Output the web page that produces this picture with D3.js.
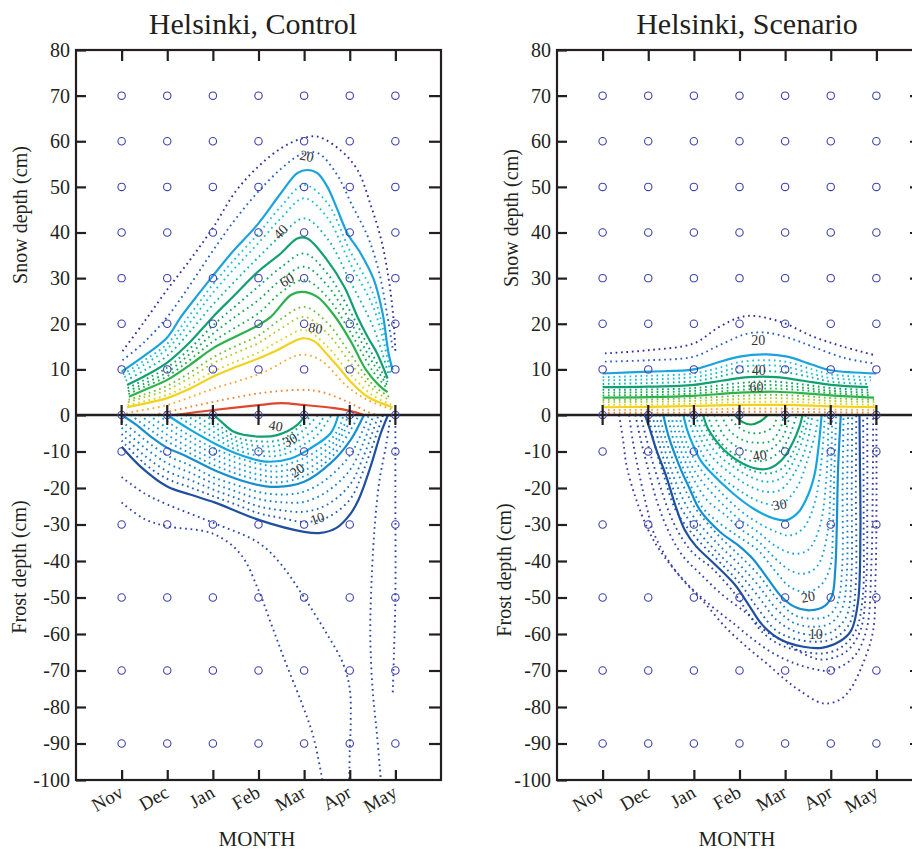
<!DOCTYPE html>
<html><head><meta charset="utf-8">
<script src="https://cdn.jsdelivr.net/npm/d3@7"></script>
<style>
body{margin:0;background:#fff}
svg text{font-family:"Liberation Serif","Times New Roman",serif;fill:#231f20}
</style>
</head><body>
<svg id="c" width="912" height="850"></svg>
<script>
// ---------------- data ----------------
const months = ['Nov','Dec','Jan','Feb','Mar','Apr','May'];
const snowTicks = [0,10,20,30,40,50,60,70,80];
const frostTicks = [-10,-20,-30,-40,-50,-60,-70,-80,-90,-100];
const snowGridDepths = [0,10,20,30,40,50,60,70];
const frostGridDepths = [-10,-30,-50,-70,-90];
const snowSolid = [20,40,60,80,95];
const frostSolid = [10,20,30,40,50];

// contour lines: [probability level (%), [[month index, depth cm], ...]]
const ctrlSnowLines = [
 [10,[[0.02,14],[0.5,20.5],[1,27.5],[1.5,34],[2,41],[2.5,49],[3,54.5],[3.5,58.5],[3.95,60.6],[4.3,61],[4.8,58],[5.17,53.7],[5.46,46],[5.7,38],[5.85,30],[5.95,22],[6.0,14]]],
 [15,[[0.02,12],[0.5,16],[1,21.5],[1.5,28.5],[2,36],[2.5,43],[3,49],[3.5,54],[3.95,57.2],[4.3,57.4],[4.7,53],[5.05,46],[5.4,39],[5.65,31],[5.82,22],[5.95,14]]],
 [20,[[0,9.5],[0.5,13],[1,17],[1.3,21.5],[1.7,26.7],[2,30.5],[2.4,35.4],[3,42],[3.49,48.6],[3.85,53],[4.07,53.7],[4.29,53],[4.51,50],[4.73,45],[4.95,39.8],[5.24,35.4],[5.53,29.6],[5.72,22.3],[5.85,13.6],[5.94,9.9]]],
 [25,[[0.03,8.9],[0.5,12],[1,15.6],[1.5,22],[2,28.6],[2.5,34.4],[3,39.8],[3.5,45.8],[4,50.4],[4.5,46.6],[5,36.1],[5.5,26.9],[5.75,18],[5.92,9.5]]],
 [30,[[0.06,8.3],[0.5,11.1],[1,14.5],[1.5,20.3],[2,26.8],[2.5,32.4],[3,37.7],[3.5,43.2],[4,47.5],[4.5,43.4],[5,33.4],[5.5,24],[5.72,17],[5.89,9.1]]],
 [35,[[0.09,7.5],[0.5,9.8],[1,13],[1.5,18.3],[2,24.2],[2.5,29.5],[3,34.6],[3.5,39.4],[4,43.1],[4.5,38.8],[5,29.5],[5.5,19.6],[5.7,14],[5.86,8.5]]],
 [40,[[0.12,6.6],[0.5,8.5],[1,11.5],[1.5,16],[2,21.5],[2.5,26.5],[3,31.5],[3.5,35.5],[3.85,38.7],[4.07,38.7],[4.5,34],[4.88,28.1],[5.17,21.5],[5.4,17],[5.6,13.5],[5.83,8.0]]],
 [45,[[0.13,5.9],[0.5,7.7],[1,10.4],[1.5,14.6],[2,19.6],[2.5,23.9],[3,28.2],[3.5,32.4],[4,35.4],[4.5,31.1],[5,22.9],[5.5,13.2],[5.83,7.2]]],
 [50,[[0.14,5.2],[0.5,6.9],[1,9.4],[1.5,13.4],[2,17.8],[2.5,21.6],[3,25.2],[3.5,29.7],[4,32.5],[4.5,28.5],[5,20.7],[5.5,11.5],[5.83,6.4]]],
 [55,[[0.15,4.6],[0.5,6.2],[1,8.5],[1.5,12.1],[2,16.1],[2.5,19.2],[3,22.3],[3.5,26.9],[4,29.6],[4.5,25.9],[5,18.4],[5.5,9.7],[5.83,5.7]]],
 [60,[[0.16,4.0],[0.5,5.5],[1,7.7],[1.5,11],[2,14.6],[2.5,17.2],[3,19.7],[3.27,21.5],[3.71,26.3],[3.95,27],[4.29,25.9],[4.66,21.8],[5.02,16.2],[5.35,10],[5.64,6.5],[5.83,5.0]]],
 [65,[[0.15,3.3],[0.5,4.5],[1,6.4],[1.5,9.3],[2,12.6],[2.5,15.1],[3,17.4],[3.5,21.1],[4,23.7],[4.5,20.3],[5,13.6],[5.5,6.7],[5.86,4.0]]],
 [70,[[0.14,2.8],[0.5,3.9],[1,5.5],[1.5,8.2],[2,11.3],[2.5,13.6],[3,15.8],[3.5,19],[4,21.5],[4.5,18],[5,11.6],[5.5,5.7],[5.88,3.2]]],
 [75,[[0.13,2.1],[0.5,3.0],[1,4.4],[1.5,6.7],[2,9.5],[2.5,11.7],[3,13.7],[3.5,16.5],[4,18.6],[4.5,15.1],[5,9.1],[5.5,4.3],[5.91,2.3]]],
 [80,[[0.12,1.7],[0.5,2.5],[1,3.7],[1.5,5.8],[2,8.4],[2.5,10.5],[3,12.4],[3.41,14.2],[3.96,16.8],[4.22,16.2],[4.51,13.2],[4.75,10.5],[5.02,7.3],[5.39,4.0],[5.94,1.7]]],
 [85,[[0.1,0.3],[0.27,0.7],[1,2.2],[2.02,5.8],[3.05,9.1],[3.93,13.2],[4.36,12],[4.95,6.2],[5.39,3.3],[5.97,1.1]]],
 [90,[[0.7,0],[1.15,1.0],[2.02,2.9],[3.05,4.8],[3.93,5.5],[4.36,5.1],[4.95,2.9],[5.39,0.7],[5.6,0]]],
 [95,[[1.15,0],[2.02,1.1],[3.05,2.2],[3.5,2.6],[4.0,2.2],[4.66,1.5],[5.0,0.9],[5.31,0]]]
];

const ctrlFrostLines = [
 [6,[[0,-24],[0.5,-28.5],[1,-30.5],[2,-32.5],[2.6,-38],[3,-48],[3.3,-58],[3.6,-68],[3.95,-79],[4.2,-88],[4.4,-100]]],
 [8,[[0,-17],[0.5,-21.5],[1,-24.5],[2,-29.5],[3,-35],[3.5,-41],[4.0,-50],[4.5,-60],[4.85,-68],[5.0,-75],[5.02,-85],[5.0,-92],[4.99,-100]]],
 [8,[[5.9,0],[5.8,-8],[5.65,-18],[5.55,-30],[5.48,-45],[5.45,-60],[5.5,-75],[5.6,-88],[5.68,-100]]],
 [6,[[6.0,-3],[6.0,-20],[6.0,-50],[5.97,-65],[5.94,-77]]],
 [10,[[0,-8.7],[0.42,-14.2],[1.0,-19.6],[1.5,-21.8],[2.05,-24],[3.02,-28.8],[4.0,-32],[4.36,-32.3],[4.7,-31],[5.02,-27],[5.2,-23],[5.46,-14],[5.68,-5],[5.84,0]]],
 [12,[[0,-7],[0.5,-13.3],[1,-17.5],[1.5,-19.8],[2,-22.2],[2.5,-24.5],[3,-26.9],[3.5,-28.2],[4,-29.3],[4.5,-28.1],[5,-23.2],[5.3,-15.2],[5.73,0]]],
 [14,[[0,-5.2],[0.5,-11.1],[1,-15.4],[1.5,-17.8],[2,-20.4],[2.5,-22.7],[3,-25],[3.5,-26.1],[4,-26.5],[4.5,-24.6],[5,-19.2],[5.3,-11.4],[5.63,0]]],
 [16,[[0,-3.5],[0.5,-8.9],[1,-13.2],[1.5,-15.8],[2,-18.7],[2.5,-20.9],[3,-23],[3.5,-23.9],[4,-23.8],[4.5,-21],[5,-15.1],[5.3,-7.6],[5.52,0]]],
 [18,[[0,-1.7],[0.5,-6.7],[1,-11.1],[1.5,-13.8],[2,-17],[2.5,-19.1],[3,-21.1],[3.5,-21.8],[4,-21],[4.5,-17.5],[5,-11.1],[5.3,-3.8],[5.42,0]]],
 [20,[[0,0],[0.3,-2.5],[0.64,-5.9],[1.0,-9],[1.37,-11],[2.1,-15.5],[2.83,-18.7],[3.4,-19.7],[4.0,-18.3],[4.58,-13.2],[5.02,-6.8],[5.31,0]]],
 [22,[[0.2,0],[0.6,-3.8],[1,-7.2],[1.5,-10.5],[2,-13.6],[2.5,-16],[3,-17.8],[3.4,-18.5],[4,-16.8],[4.58,-11.8],[5.0,-4.5],[5.2,0]]],
 [24,[[0.4,0],[0.7,-2.8],[1,-5.4],[1.5,-9],[2,-12],[2.5,-14.5],[3,-16.3],[3.4,-17],[4,-15.2],[4.58,-10.2],[4.9,-4],[5.08,0]]],
 [26,[[0.6,0],[1,-3.6],[1.5,-7.3],[2,-10.5],[2.5,-13],[3,-14.8],[3.4,-15.5],[4,-13.5],[4.58,-8.5],[4.85,-3.5],[4.97,0]]],
 [28,[[0.8,0],[1,-1.8],[1.5,-5.7],[2,-9],[2.5,-11.5],[3,-13.3],[3.4,-14],[4,-11.8],[4.58,-6.8],[4.8,-2.5],[4.86,0]]],
 [30,[[1.0,0],[1.5,-4],[2.1,-8.2],[2.5,-10.5],[2.83,-11.9],[3.2,-12.8],[3.71,-11.9],[4.14,-9.1],[4.58,-5.0],[4.75,0]]],
 [32,[[1.2,0],[1.5,-2.5],[2,-6],[2.5,-9.4],[3,-11.1],[3.5,-11],[4,-8],[4.3,-5.3],[4.6,0]]],
 [34,[[1.4,0],[1.7,-2.2],[2,-4.5],[2.5,-8.2],[3,-9.8],[3.5,-9.6],[4,-6],[4.3,-3],[4.45,0]]],
 [36,[[1.6,0],[2,-3],[2.5,-7.1],[3,-8.5],[3.5,-8.1],[4,-4],[4.3,0]]],
 [38,[[1.8,0],[2,-1.5],[2.5,-6],[3,-7.2],[3.5,-6.7],[4,-2],[4.17,0]]],
 [40,[[2.02,0],[2.2,-2],[2.46,-4.6],[2.98,-5.9],[3.41,-5.5],[3.85,-2.7],[4.02,0]]]
];

const scenSnowLines = [
 [10,[[0.05,13.5],[1,14.2],[2,15.7],[2.57,19.4],[3.15,21.7],[3.88,20.5],[4.61,17.2],[5.27,15],[5.93,13.2]]],
 [15,[[0.05,11.7],[1,12],[2,12.8],[2.6,15.5],[3.2,17.9],[3.7,17.9],[4.2,16.5],[4.6,15],[5.3,12.5],[5.93,11.3]]],
 [20,[[0,9.1],[1,9.5],[2,10],[2.45,11.3],[3,12.8],[3.6,13.3],[4.05,12.8],[4.6,11],[5,9.8],[6,9.1]]],
 [25,[[0,8.3],[1,8.6],[2,9.1],[2.5,10.2],[3,11.6],[3.6,12],[4.05,11.6],[4.6,10],[5,8.9],[5.9,8.3]]],
 [30,[[0,7.6],[1,7.8],[2,8.3],[2.5,9.2],[3,10.5],[3.6,10.9],[4.05,10.5],[4.6,9],[5,8.1],[5.88,7.6]]],
 [35,[[0,6.8],[1,7],[2,7.4],[2.5,8.3],[3,9.4],[3.6,9.6],[4.05,9.3],[4.6,8.2],[5,7.3],[5.85,6.8]]],
 [40,[[0,6.1],[1,6.2],[2,6.6],[2.6,7.5],[3.2,8.3],[3.8,8.3],[4.4,7.5],[5,6.6],[5.82,6.1]]],
 [45,[[0,5.5],[1,5.6],[2,5.9],[3,7.0],[3.6,7.4],[4.3,6.8],[5,5.9],[5.85,5.5]]],
 [50,[[0,4.9],[1,5],[2,5.3],[3,6.2],[3.6,6.6],[4.3,6.1],[5,5.3],[5.88,4.9]]],
 [55,[[0,4.3],[1,4.4],[2,4.7],[3,5.5],[3.7,5.8],[4.4,5.4],[5,4.8],[5.9,4.3]]],
 [60,[[0,3.8],[1,3.9],[2,4.2],[3,4.9],[3.8,5.1],[4.5,4.7],[5,4.3],[5.95,3.8]]],
 [65,[[0,3.3],[1,3.4],[2,3.7],[3,4.2],[3.8,4.4],[4.5,4.1],[5,3.7],[6,3.3]]],
 [70,[[0,2.8],[1,2.9],[2,3.1],[3,3.5],[3.8,3.7],[4.5,3.4],[5,3.1],[6,2.8]]],
 [75,[[0,2.2],[1,2.3],[2,2.5],[3,2.8],[4,2.9],[5,2.5],[6,2.2]]],
 [80,[[0,1.7],[1,1.8],[2,2.0],[3,2.2],[4,2.2],[5,1.9],[6,1.7]]],
 [85,[[0,1.1],[2,1.2],[3,1.4],[4,1.4],[5,1.2],[6,1.1]]],
 [90,[[0,0.5],[2,0.55],[3,0.7],[4,0.7],[5,0.6],[6,0.5]]]
];

const scenFrostLines = [
 [2,[[0.36,0],[0.45,-7],[0.53,-14.2],[0.74,-23.3],[1.0,-31.5],[1.25,-37],[1.76,-45.2],[2.2,-51],[2.72,-58.5],[3.2,-64],[3.59,-68],[4.0,-72.5],[4.32,-75.5],[4.83,-79],[5.2,-78],[5.42,-75.3],[5.71,-68],[5.93,-59],[5.98,-45],[6.0,-31.5],[6.0,0]]],
 [4,[[0.58,0],[0.66,-7],[0.8,-16],[1.0,-27],[1.11,-32],[1.5,-41],[1.91,-47],[2.4,-52.5],[2.86,-57],[3.3,-61.5],[3.74,-65.3],[4.2,-68],[4.6,-69.5],[4.98,-70],[5.49,-66.5],[5.78,-59],[5.89,-41],[5.92,-20],[5.93,0]]],
 [6,[[0.72,0],[0.82,-6],[0.98,-14],[1.2,-24],[1.45,-32],[1.75,-38.5],[2.13,-43.4],[2.6,-49],[3.15,-54.3],[3.55,-59],[4.03,-62.5],[4.5,-66],[4.85,-67],[5.34,-64.8],[5.65,-59],[5.78,-45],[5.8,-25],[5.8,0]]],
 [8,[[0.83,0],[0.95,-6],[1.1,-13],[1.3,-21],[1.5,-28],[1.75,-34],[2.0,-38],[2.4,-42],[2.9,-49],[3.2,-54.5],[3.5,-59.5],[3.9,-63],[4.4,-64.8],[4.85,-65.3],[5.25,-63.5],[5.55,-59],[5.7,-50],[5.72,-30],[5.71,0]]],
 [10,[[0.93,0],[1.05,-4.5],[1.18,-9.6],[1.4,-17],[1.6,-25],[1.8,-31.5],[2.05,-36],[2.4,-40.2],[2.9,-46.5],[3.2,-52],[3.5,-57.5],[3.9,-61.5],[4.4,-63.5],[4.8,-63.8],[5.2,-62],[5.45,-59],[5.6,-51],[5.65,-32],[5.64,-14],[5.63,0]]],
 [12,[[1.01,0],[1.13,-7.5],[1.35,-17],[1.6,-26],[2.0,-33],[2.5,-39.5],[3.0,-46],[3.4,-53],[3.8,-59],[4.2,-61.3],[4.75,-62.1],[5.1,-61],[5.42,-57],[5.54,-48],[5.55,-20],[5.56,0]]],
 [14,[[1.09,0],[1.22,-7],[1.45,-16.5],[1.7,-25],[2.0,-30.5],[2.5,-37.5],[3.0,-43.5],[3.4,-49.5],[3.8,-56],[4.2,-59.2],[4.7,-60.3],[5.05,-59.3],[5.35,-55],[5.45,-45],[5.46,-20],[5.47,0]]],
 [16,[[1.17,0],[1.3,-6.8],[1.53,-16],[1.78,-23.5],[2.0,-28],[2.5,-35],[3.0,-41],[3.4,-46.5],[3.8,-53],[4.2,-57],[4.65,-58],[5.0,-57],[5.25,-53],[5.35,-44],[5.36,-20],[5.38,0]]],
 [18,[[1.25,0],[1.38,-6.5],[1.62,-15],[1.85,-21.5],[2.0,-25],[2.5,-32.5],[3.0,-38.5],[3.4,-43.5],[3.8,-50],[4.2,-54.8],[4.6,-55.8],[4.95,-55],[5.15,-51.5],[5.25,-42],[5.26,-20],[5.28,0]]],
 [20,[[1.33,0],[1.45,-6],[1.69,-14.2],[1.9,-20],[2.13,-26],[2.57,-32],[3.0,-36],[3.3,-39.5],[3.6,-44.5],[3.9,-49.5],[4.2,-52.5],[4.55,-53.5],[4.87,-52.3],[5.03,-49.5],[5.1,-42],[5.13,-32],[5.16,-15],[5.22,0]]],
 [22,[[1.42,0],[1.58,-8],[1.85,-17],[2.2,-25.5],[2.6,-30],[3.0,-33.5],[3.4,-37],[3.8,-43],[4.1,-47],[4.45,-48.5],[4.75,-47],[4.98,-42],[5.05,-30],[5.08,-15],[5.12,0]]],
 [24,[[1.5,0],[1.68,-8.5],[1.95,-16.5],[2.3,-23.5],[2.7,-27.5],[3.0,-31],[3.4,-34.5],[3.8,-39.5],[4.1,-42.5],[4.4,-43.5],[4.7,-41.5],[4.92,-33],[5.0,-18],[5.03,0]]],
 [26,[[1.59,0],[1.76,-8],[2.0,-15],[2.4,-21.5],[3.0,-28.6],[3.4,-32],[3.8,-36],[4.2,-38],[4.5,-37],[4.75,-31],[4.9,-18],[4.95,0]]],
 [28,[[1.68,0],[1.85,-8],[2.1,-14],[2.5,-20],[3.0,-26],[3.4,-29.5],[3.8,-32],[4.1,-33],[4.4,-31],[4.65,-24],[4.8,-12],[4.87,0]]],
 [30,[[1.77,0],[1.85,-4],[1.98,-8.2],[2.15,-12.5],[2.35,-15.5],[2.86,-21.5],[3.3,-25.6],[3.74,-28.3],[4.03,-28.8],[4.3,-26.5],[4.5,-22],[4.65,-16],[4.73,-9],[4.8,0]]],
 [32,[[1.86,0],[2.05,-7],[2.3,-13],[2.7,-18],[3.1,-21.5],[3.5,-24],[3.9,-24.5],[4.25,-20],[4.5,-12],[4.68,-4],[4.72,0]]],
 [34,[[1.95,0],[2.15,-6.5],[2.4,-11.5],[2.8,-16],[3.15,-19],[3.55,-21],[3.9,-20.5],[4.2,-16],[4.45,-9],[4.6,0]]],
 [36,[[2.03,0],[2.2,-5],[2.5,-10.5],[2.9,-14.5],[3.25,-17],[3.6,-18.3],[3.95,-17],[4.25,-11],[4.45,-4],[4.52,0]]],
 [38,[[2.12,0],[2.3,-4.5],[2.6,-9.5],[3.0,-13.5],[3.35,-15.5],[3.65,-16],[3.95,-14.5],[4.2,-9.5],[4.4,-3],[4.45,0]]],
 [40,[[2.2,0],[2.3,-3.5],[2.45,-6.5],[2.64,-9.3],[3.0,-12.8],[3.37,-14.7],[3.66,-14.6],[3.95,-12],[4.17,-7.5],[4.32,-3],[4.38,0]]],
 [42,[[2.3,0],[2.5,-6],[2.8,-10],[3.2,-12.4],[3.6,-12.3],[3.95,-9],[4.15,-4],[4.25,0]]],
 [44,[[2.45,0],[2.65,-5.5],[2.95,-8.7],[3.3,-10],[3.65,-9.6],[3.95,-6],[4.1,0]]],
 [46,[[2.6,0],[2.8,-4.5],[3.1,-7],[3.4,-7.6],[3.7,-7],[3.9,-3.5],[3.97,0]]],
 [48,[[2.75,0],[2.95,-3],[3.2,-4.8],[3.5,-4.8],[3.75,-3],[3.82,0]]],
 [50,[[2.9,0],[3.05,-1.8],[3.25,-2.6],[3.45,-1.8],[3.62,0]]]
];

// inline contour labels: [text, month index, depth, rotation]
const ctrlSnowLabels = [['20',4.06,56.8,12],['40',3.48,40.2,-45],['60',3.62,29.6,-30],['80',4.25,19.1,10]];
const ctrlFrostLabels = [['40',3.38,-2.9,10],['30',3.69,-6.8,-30],['20',3.85,-15.1,-35],['10',4.29,-28.3,-20]];
const scenSnowLabels = [['20',3.41,16.4,0],['40',3.42,9.9,0],['60',3.37,6.1,0]];
const scenFrostLabels = [['40',3.44,-11,-10],['30',3.88,-24.5,-10],['20',4.5,-49.8,-10],['10',4.67,-60,0]];

// ---------------- styling / layout ----------------
const snowColor = d3.scaleLinear()
  .domain([10,15,20,25,30,35,40,50,60,65,70,75,80,85,90,95])
  .range(['#30309c','#2a5fc4','#1ca2dc','#22bde0','#18c0d2','#12b2a6','#12a070','#14a85a','#2cb14b','#70bf3c','#aacd2c','#dad526','#f0d21f','#f4aa30','#f0873a','#e2452a']);
const frostColor = d3.scaleLinear()
  .domain([2,8,10,16,20,26,30,36,40,46,50])
  .range(['#3a3aa6','#2c48aa','#1f4f9f','#1e7fcc','#168fd0','#1aa2de','#13a7df','#10b3c0','#11a072','#17ab5e','#0f9e55']);

const INK = '#231f20';
const SERIF = '"Liberation Serif","Times New Roman",serif';
const panels = [
  {title:'Helsinki, Control', titleX:253, left:76, snow:ctrlSnowLines, frost:ctrlFrostLines,
   snowLabels:ctrlSnowLabels, frostLabels:ctrlFrostLabels,
   snowTitle:[27,215], frostTitle:[26,567], monthX:257},
  {title:'Helsinki, Scenario', titleX:747, left:557, snow:scenSnowLines, frost:scenFrostLines,
   snowLabels:scenSnowLabels, frostLabels:scenFrostLabels,
   snowTitle:[518,218], frostTitle:[511,570], monthX:737}
];

const svg = d3.select('#c');
const ySnow = d3.scaleLinear().domain([0,80]).range([415,50]);
const yFrost = d3.scaleLinear().domain([0,-100]).range([415,780]);

panels.forEach(p => {
  const x = d3.scaleLinear().domain([-1,7]).range([p.left, p.left+365]);
  const g = svg.append('g');
  const mk = ys => d3.line().x(d=>x(d[0])).y(d=>ys(d[1])).curve(d3.curveCatmullRom.alpha(0.5));

  const drawSet = (lines, ys, color, solidSet) => {
    const sorted = lines.slice().sort((a,b)=> (solidSet.includes(a[0])?1:0) - (solidSet.includes(b[0])?1:0));
    g.append('g').selectAll('path').data(sorted).join('path')
      .attr('d', d => mk(ys)(d[1]))
      .attr('fill','none')
      .attr('stroke', d => color(d[0]))
      .attr('stroke-width', d => solidSet.includes(d[0]) ? 2.2 : 1.9)
      .attr('stroke-dasharray', d => solidSet.includes(d[0]) ? null : '1.7 3.7');
  };
  drawSet(p.snow, ySnow, snowColor, snowSolid);
  drawSet(p.frost, yFrost, frostColor, frostSolid);

  const lab = (arr, ys) => g.append('g').selectAll('text').data(arr).join('text')
    .attr('transform', d => `translate(${x(d[1])},${ys(d[2])}) rotate(${d[3]})`)
    .attr('text-anchor','middle').attr('dy','0.35em')
    .style('font-family',SERIF).style('font-size','14px').style('fill','#333').text(d=>d[0]);
  lab(p.snowLabels, ySnow);
  lab(p.frostLabels, yFrost);

  g.append('line').attr('x1',x(-1)).attr('x2',x(7)).attr('y1',ySnow(0)).attr('y2',ySnow(0))
    .attr('stroke',INK).attr('stroke-width',2.6);

  const pts = [];
  months.forEach((m,i)=>{ snowGridDepths.forEach(v=>pts.push([i,ySnow(v)])); frostGridDepths.forEach(v=>pts.push([i,yFrost(v)])); });
  g.append('g').selectAll('circle').data(pts).join('circle')
    .attr('cx',d=>x(d[0])).attr('cy',d=>d[1]).attr('r',3.7)
    .attr('fill','none').attr('stroke','#3c40ad').attr('stroke-width',1.1);

  g.append('g').selectAll('line').data(months.map((m,i)=>i)).join('line')
    .attr('x1',d=>x(d)).attr('x2',d=>x(d)).attr('y1',ySnow(0)-10).attr('y2',ySnow(0)+10)
    .attr('stroke',INK).attr('stroke-width',2.2);

  const style = sel => { sel.select('.domain').remove(); sel.selectAll('line').attr('stroke',INK).attr('stroke-width',2.2);
    sel.selectAll('text').style('font-family',SERIF).style('font-size','20px').style('fill',INK); };
  g.append('g').attr('transform',`translate(${p.left},0)`)
    .call(d3.axisLeft(ySnow).tickValues(snowTicks).tickSize(-10).tickPadding(6).tickFormat(d3.format('d'))).call(style);
  g.append('g').attr('transform',`translate(${p.left},0)`)
    .call(d3.axisLeft(yFrost).tickValues(frostTicks).tickSize(-10).tickPadding(6).tickFormat(d=>String(d))).call(style);
  g.append('g').attr('transform',`translate(${p.left+365},0)`)
    .call(d3.axisRight(ySnow).tickValues(snowTicks.slice(1,-1)).tickSize(-12).tickFormat('')).call(style);
  g.append('g').attr('transform',`translate(${p.left+365},0)`)
    .call(d3.axisRight(yFrost).tickValues(frostTicks.slice(0,-1)).tickSize(-12).tickFormat('')).call(style);
  g.append('g').attr('transform',`translate(0,${ySnow(80)})`)
    .call(d3.axisTop(x).tickValues(d3.range(7)).tickSize(-11).tickFormat('')).call(style);
  g.append('g').attr('transform',`translate(0,${yFrost(-100)})`)
    .call(d3.axisBottom(x).tickValues(d3.range(7)).tickSize(-10).tickFormat('')).call(style);

  g.append('rect').attr('x',p.left).attr('y',ySnow(80)).attr('width',365).attr('height',yFrost(-100)-ySnow(80))
    .attr('fill','none').attr('stroke',INK).attr('stroke-width',2.2);

  g.append('g').selectAll('text').data(months).join('text')
    .attr('transform',(d,i)=>`translate(${x(i)+3},${yFrost(-100)+16}) rotate(-30)`)
    .attr('text-anchor','end').style('font-family',SERIF).style('font-size','19px').text(d=>d);

  g.append('text').attr('x',p.titleX).attr('y',34).attr('text-anchor','middle').style('font-size','30px').text(p.title);
  g.append('text').attr('x',p.monthX).attr('y',846).attr('text-anchor','middle').style('font-size','21px').text('MONTH');
  g.append('text').attr('transform',`translate(${p.snowTitle[0]},${p.snowTitle[1]}) rotate(-90)`)
    .attr('text-anchor','middle').style('font-size','20px').text('Snow depth (cm)');
  g.append('text').attr('transform',`translate(${p.frostTitle[0]},${p.frostTitle[1]}) rotate(-90)`)
    .attr('text-anchor','middle').style('font-size','20px').text('Frost depth (cm)');
});
</script>
</body></html>
